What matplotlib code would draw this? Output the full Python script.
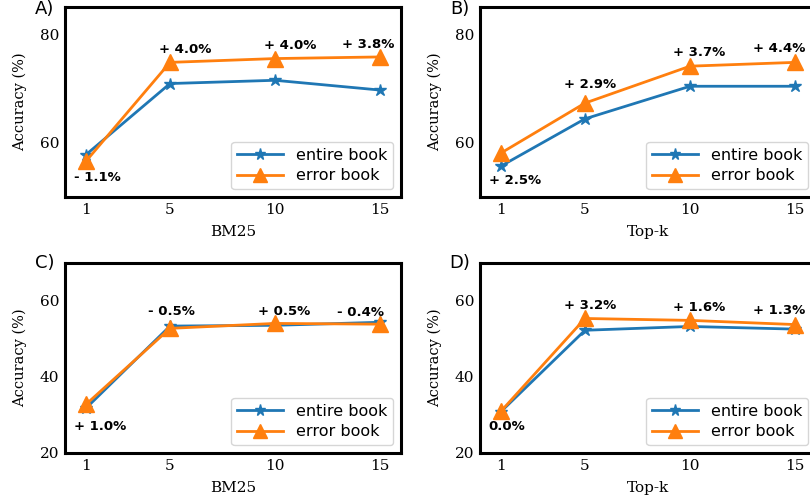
import numpy as np
import matplotlib.pyplot as plt

# x values (retrieval depth)
K = [1, 5, 10, 15]
XTICKS = [1, 5, 10, 15]

# panel A: BM25, first model
A_ENTIRE = [57.8, 70.9, 71.5, 69.7]
A_ERROR = [56.6, 74.8, 75.5, 75.8]
A_LABELS = ["- 1.1%", "+ 4.0%", "+ 4.0%", "+ 3.8%"]

# panel B: Top-k, first model
B_ENTIRE = [55.7, 64.4, 70.4, 70.4]
B_ERROR = [58.1, 67.3, 74.1, 74.8]
B_LABELS = ["+ 2.5%", "+ 2.9%", "+ 3.7%", "+ 4.4%"]

# panel C: BM25, second model
C_ENTIRE = [31.8, 53.4, 53.6, 54.4]
C_ERROR = [32.8, 52.8, 54.1, 53.9]
C_LABELS = ["+ 1.0%", "- 0.5%", "+ 0.5%", "- 0.4%"]

# panel D: Top-k, second model
D_ENTIRE = [30.9, 52.3, 53.3, 52.6]
D_ERROR = [31.0, 55.4, 54.9, 53.8]
D_LABELS = ["0.0%", "+ 3.2%", "+ 1.6%", "+ 1.3%"]

# label offsets from the error-book point, in pixels (dx, dy)
A_OFF = [(11, -16), (15, 13), (15, 13), (-12, 12)]
B_OFF = [(14, -27), (5, 19), (9, 14), (-16, 14)]
C_OFF = [(14, -22), (1, 17), (9, 12), (-19, 12)]
D_OFF = [(6, -15), (5, 13), (9, 13), (-16, 14)]

W, H = 810, 499
SERIF = "DejaVu Serif"


def px_axes(fig, left, top, width=336, height=190):
    return fig.add_axes([left / W, (H - top - height) / H, width / W, height / H])


def panel(ax, entire, error, labels, offsets, xlabel, ylim, yticks):
    ax.plot(K, entire, color="#1f77b4", marker="*", markersize=9, linewidth=2, label="entire book")
    ax.plot(K, error, color="#ff7f0e", marker="^", markersize=11, linewidth=2, label="error book")
    for x, y, lab, (dx, dy) in zip(K, error, labels, offsets):
        ax.annotate(lab, (x, y), xytext=(dx, dy), textcoords="offset pixels",
                    ha="center", va="center", fontsize=9.5, fontweight="bold")
    ax.set_xlim(0, 16)
    ax.set_ylim(*ylim)
    ax.set_xticks(XTICKS)
    ax.set_yticks(yticks)
    ax.tick_params(length=0, pad=4, labelsize=11)
    for t in ax.get_xticklabels() + ax.get_yticklabels():
        t.set_family(SERIF)
    for s in ax.spines.values():
        s.set_linewidth(2.2)
        s.set_color("black")
    ax.set_ylabel("Accuracy (%)", family=SERIF, fontsize=10.5, labelpad=9)
    ax.set_xlabel(xlabel, family=SERIF, fontsize=11, labelpad=6)
    ax.legend(loc="lower right", fontsize=11.5, handlelength=2.9, labelspacing=0.35,
              borderpad=0.35, markerscale=0.9)


fig = plt.figure(figsize=(W / 100, H / 100), dpi=100)

ax_a = px_axes(fig, 65, 7)
ax_b = px_axes(fig, 480, 7)
ax_c = px_axes(fig, 65, 263)
ax_d = px_axes(fig, 480, 263)

panel(ax_a, A_ENTIRE, A_ERROR, A_LABELS, A_OFF, "BM25", (50, 85), [60, 80])
panel(ax_b, B_ENTIRE, B_ERROR, B_LABELS, B_OFF, "Top-k", (50, 85), [60, 80])
panel(ax_c, C_ENTIRE, C_ERROR, C_LABELS, C_OFF, "BM25", (20, 70), [20, 40, 60])
panel(ax_d, D_ENTIRE, D_ERROR, D_LABELS, D_OFF, "Top-k", (20, 70), [20, 40, 60])

# panel letters (top row sits right at the upper edge)
fig.text(54 / W, 1.0, "A)", ha="right", va="top", fontsize=13)
fig.text(470 / W, 1.0, "B)", ha="right", va="top", fontsize=13)
fig.text(54 / W, 1 - 263 / H, "C)", ha="right", va="center", fontsize=13)
fig.text(470 / W, 1 - 263 / H, "D)", ha="right", va="center", fontsize=13)

fig.savefig("out.png", dpi=100)
